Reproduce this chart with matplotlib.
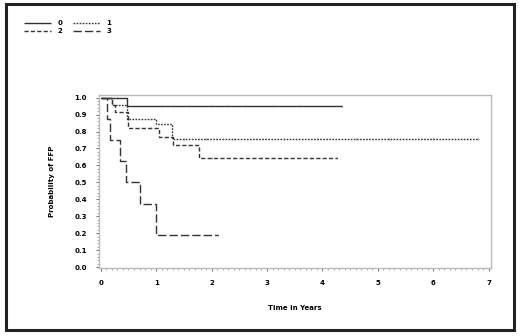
import matplotlib as mpl
mpl.use("Agg")
import matplotlib.pyplot as plt
from matplotlib.patches import Rectangle
from matplotlib.ticker import MultipleLocator

# step curves: (event times, survival after each step, end of follow-up)
g0_t = [0, 0.47]
g0_s = [1.0, 0.952]
g0_end = 4.36

g1_t = [0, 0.20, 0.48, 1.00, 1.28]
g1_s = [1.0, 0.958, 0.872, 0.844, 0.755]
g1_end = 6.80

g2_t = [0, 0.20, 0.25, 0.49, 1.05, 1.30, 1.77]
g2_s = [1.0, 0.958, 0.915, 0.82, 0.768, 0.718, 0.645]
g2_end = 4.26

g3_t = [0, 0.12, 0.175, 0.34, 0.46, 0.70, 0.99]
g3_s = [1.0, 0.875, 0.75, 0.625, 0.50, 0.375, 0.1875]
g3_end = 2.12

# censoring times
g0_cens = [0.3, 1.1, 1.3, 1.6, 2.0, 2.3, 2.6, 3.1, 3.6, 4.36]
g1_cens = [1.5, 1.9, 2.4, 3.3, 3.9, 4.6, 5.2, 6.0, 6.8]
g2_cens = [0.9, 2.0, 2.4, 2.9, 3.3, 3.8, 4.26]
g3_cens = [2.12]

groups = ["0", "1", "2", "3"]
styles = [(0, ()), (0, (1.2, 1.0)), (0, (3, 1.6)), (0, (6, 2.2))]

fig = plt.figure(figsize=(5.2, 3.36), dpi=100)
fig.patches.append(Rectangle((0.011, 0.018), 0.978, 0.97, transform=fig.transFigure,
                             fill=False, edgecolor="#222222", lw=2.2))
ax = fig.add_axes([0.190, 0.202, 0.754, 0.515])


def step(t, s, end):
    return list(t) + [end], list(s) + [s[-1]]


def at(t, s, x):
    v = s[0]
    for ti, si in zip(t, s):
        if x >= ti:
            v = si
    return v


data = [(g0_t, g0_s, g0_end, g0_cens), (g1_t, g1_s, g1_end, g1_cens),
        (g2_t, g2_s, g2_end, g2_cens), (g3_t, g3_s, g3_end, g3_cens)]
handles = []
for (t, s, end, cens), name, ls in zip(data, groups, styles):
    x, y = step(t, s, end)
    h, = ax.step(x, y, where="post", color="#333333", lw=1.0, linestyle=ls, label=name)
    handles.append(h)
    ax.plot(cens, [at(t, s, c) for c in cens], "|", color="#666666", ms=1.8, mew=0.5)

ax.set_xlim(-0.036, 7.04)
ax.set_ylim(-0.006, 1.015)
ax.xaxis.set_major_locator(MultipleLocator(1))
ax.xaxis.set_minor_locator(MultipleLocator(0.1))
ax.yaxis.set_major_locator(MultipleLocator(0.1))
ax.yaxis.set_minor_locator(MultipleLocator(0.02))
ax.yaxis.set_major_formatter(mpl.ticker.FormatStrFormatter("%.1f"))
ax.tick_params(axis="both", which="major", labelsize=5, length=2.5, width=0.6, color="#555555", pad=6)
ax.tick_params(axis="both", which="minor", length=1.5, width=0.5, color="#888888")
for lab in ax.get_xticklabels() + ax.get_yticklabels():
    lab.set_fontweight("bold")
for sp in ax.spines.values():
    sp.set_color("#bbbbbb")
    sp.set_linewidth(1.0)
ax.set_xlabel("Time in Years", fontsize=5, fontweight="bold", labelpad=14)
ax.set_ylabel("Probability of FFP", fontsize=5, fontweight="bold", labelpad=14)

fig.legend([handles[0], handles[2], handles[1], handles[3]], ["0", "2", "1", "3"],
           ncol=2, loc="upper left", bbox_to_anchor=(0.034, 0.958), frameon=False,
           prop={"size": 5, "weight": "bold"}, handlelength=3.9, columnspacing=1.4,
           labelspacing=0.25, handletextpad=1.0)

fig.savefig("out.png", dpi=100)
